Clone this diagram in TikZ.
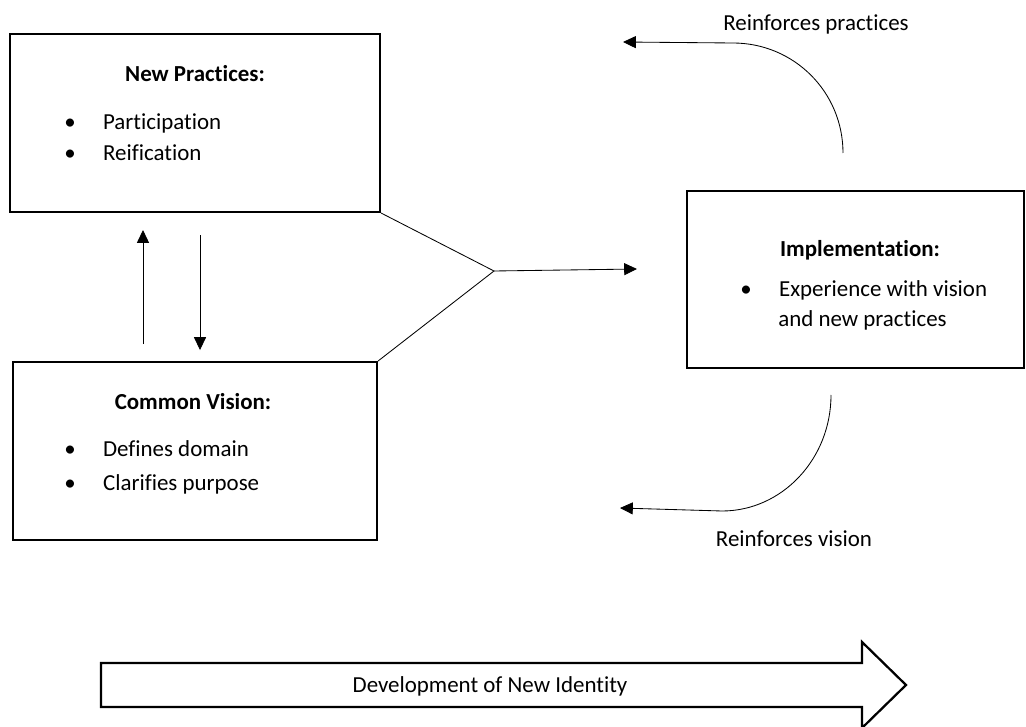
\documentclass[tikz,border=0pt]{standalone}
\usepackage{fontspec}
\setmainfont[Ligatures={NoCommon}]{Carlito}
\usetikzlibrary{positioning,arrows.meta}

\newcommand{\bul}{\makebox[0.97cm][l]{\textbullet}}

\begin{document}
\begin{tikzpicture}[
		x=0.025cm, y=-0.025cm,
		node distance=3.7cm,
		every node/.style={font=\fontsize{16.3pt}{21.5pt}\selectfont},
		panel/.style={
				draw,
				rectangle,
				line width=1.4pt,
				inner sep=0pt,
				minimum height=4.45cm
			},
		heading/.style={anchor=base, font=\fontsize{16.3pt}{21.5pt}\selectfont\bfseries},
		entry/.style={anchor=base west, inner sep=0pt},
		caption/.style={anchor=base},
		link/.style={line width=0.6pt},
		arrow/.style={link, -{Triangle[length=0.32cm, width=0.3cm]}}
	]
	\useasboundingbox (0,0) rectangle (1026,727);

	% Boxes
	\node[panel, minimum width=9.25cm] (practices) at (195,123) {};
	\node[panel, minimum width=9.1cm, below=of practices] (vision) {};
	\node[panel, minimum width=8.425cm, minimum height=4.425cm] (impl) at (855.5,279.5) {};

	% Box contents
	\node[heading] (practicesH) at (195,82) {New Practices:};
	\node[entry] (part) at (64,130) {\bul Participation};
	\node[entry] (reif) at (64,161) {\bul Reification};

	\node[heading] (visionH) at (193,410) {Common Vision:};
	\node[entry] (domain) at (64,457) {\bul Defines domain};
	\node[entry] (purpose) at (64,490) {\bul Clarifies purpose};

	\node[heading] (implH) at (860,257) {Implementation:};
	\node[entry] (exper) at (740,297) {\bul Experience with vision};
	\node[entry] (newprac) at (778,327) {and new practices};

	% Merge into implementation
	\coordinate (merge) at (494,271);
	\coordinate (implIn) at (637,269);
	\draw[link] (practices.south east) -- (merge) -- (vision.north east);
	\draw[arrow] (merge) -- (implIn);

	% Between practices and vision
	\draw[arrow, shorten <=0.425cm, shorten >=0.425cm] ([xshift=-1.3cm]vision.north) -- ([xshift=-1.3cm]practices.south);
	\draw[arrow, shorten <=0.55cm, shorten >=0.275cm] ([xshift=0.125cm]practices.south) -- ([xshift=0.125cm]vision.north);

	% Feedback loops
	\coordinate (loopTop) at (843,153);
	\coordinate (loopTopEnd) at (623,42);
	\draw[arrow] (loopTop) .. controls (843,92) and (794,43) .. (733,43) -- (loopTopEnd);
	\node[caption] (reinfP) at (816,31) {Reinforces practices};

	\coordinate (loopBot) at (831,395);
	\coordinate (loopBotEnd) at (620,508);
	\draw[arrow] (loopBot) .. controls (831,459) and (782,511) .. (722,511) -- (loopBotEnd);
	\node[caption] (reinfV) at (794,546) {Reinforces vision};

	% Identity arrow
	\draw[line width=1.6pt] (101,663) -- (862,663) -- (862,642) -- (906,685) -- (862,728) -- (862,707) -- (101,707) -- cycle;
	\node[caption] (identity) at (490,692) {Development of New Identity};
\end{tikzpicture}
\end{document}
